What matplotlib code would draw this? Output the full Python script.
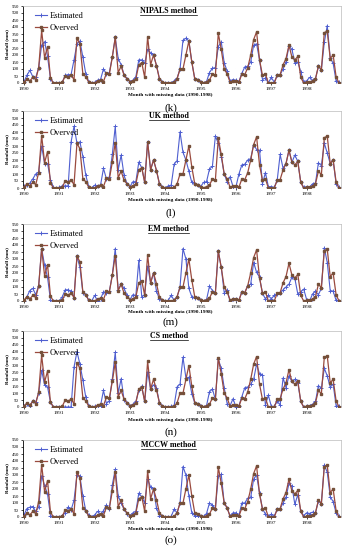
import matplotlib
matplotlib.use("Agg")
import matplotlib.pyplot as plt
from matplotlib.lines import Line2D
import numpy as np

plt.rcParams["font.family"] = ["Liberation Serif", "DejaVu Serif"]

years = ["1990", "1991", "1992", "1993", "1994", "1995", "1996", "1997", "1998"]

# observed monthly rainfall (mm), one row per year
observed = [
    5, 30, 15, 40, 25, 110, 375, 180, 260, 35, 0, 0,
    0, 5, 50, 45, 55, 25, 320, 280, 65, 45, 5, 0,
    0, 15, 20, 10, 70, 65, 185, 325, 75, 120, 55, 30,
    10, 15, 30, 130, 145, 40, 330, 130, 200, 125, 30, 5,
    0, 0, 0, 5, 30, 100, 100, 200, 300, 150, 30, 25,
    10, 0, 10, 20, 65, 55, 355, 240, 100, 65, 5, 15,
    15, 5, 65, 60, 110, 200, 310, 365, 165, 55, 65, 0,
    0, 0, 55, 60, 130, 175, 270, 185, 165, 190, 40, 0,
    5, 5, 15, 30, 120, 95, 360, 370, 175, 200, 45, 0,
]

est_nipals = [
    10, 55, 90, 45, 40, 110, 270, 295, 190, 30, 0, 0,
    0, 5, 55, 60, 60, 165, 280, 300, 185, 65, 10, 0,
    5, 20, 25, 100, 65, 75, 185, 325, 175, 130, 60, 30,
    10, 20, 45, 165, 165, 140, 240, 215, 200, 125, 30, 5,
    0, 0, 0, 15, 35, 100, 305, 320, 300, 150, 30, 25,
    5, 0, 10, 75, 105, 110, 260, 295, 145, 85, 15, 25,
    20, 10, 70, 115, 120, 150, 270, 280, 165, 25, 35, 0,
    40, 5, 55, 60, 100, 150, 265, 240, 145, 150, 80, 10,
    15, 40, 20, 30, 120, 95, 290, 410, 180, 140, 15, 5,
]

est_uk = [
    15, 20, 35, 65, 100, 115, 300, 175, 175, 60, 5, 0,
    5, 15, 15, 15, 330, 440, 320, 330, 225, 90, 10, 0,
    20, 15, 20, 140, 65, 80, 240, 440, 130, 235, 90, 30,
    10, 45, 45, 185, 145, 40, 330, 130, 200, 125, 30, 5,
    0, 15, 20, 170, 195, 400, 255, 200, 120, 40, 30, 20,
    10, 40, 45, 135, 155, 370, 320, 225, 100, 45, 80, 10,
    10, 100, 165, 170, 200, 210, 310, 275, 270, 30, 110, 10,
    10, 5, 55, 240, 140, 175, 270, 185, 235, 190, 40, 5,
    10, 5, 30, 35, 180, 160, 320, 250, 175, 200, 30, 5,
]

est_em = [
    0, 30, 75, 90, 45, 110, 375, 255, 170, 5, 0, 0,
    0, 30, 80, 80, 70, 25, 320, 240, 60, 45, 5, 0,
    40, 0, 15, 65, 60, 70, 185, 375, 80, 120, 90, 40,
    10, 45, 40, 290, 30, 45, 250, 130, 200, 70, 15, 5,
    0, 5, 40, 5, 30, 100, 375, 300, 90, 30, 25, 20,
    5, 0, 10, 105, 75, 60, 355, 240, 60, 80, 0, 15,
    15, 5, 65, 60, 110, 120, 275, 205, 170, 55, 15, 40,
    15, 40, 50, 55, 80, 100, 120, 170, 160, 50, 65, 85,
    10, 0, 50, 70, 45, 90, 380, 275, 75, 70, 5, 0,
]

est_cs = [
    10, 20, 5, 45, 35, 100, 265, 160, 145, 35, 0, 0,
    0, 0, 0, 0, 0, 290, 400, 310, 195, 70, 10, 0,
    5, 5, 10, 120, 25, 45, 205, 395, 100, 205, 50, 30,
    5, 20, 40, 120, 150, 40, 255, 130, 160, 140, 30, 5,
    0, 0, 5, 10, 145, 165, 360, 210, 215, 95, 30, 25,
    10, 0, 10, 110, 130, 55, 345, 280, 140, 25, 10, 60,
    0, 10, 75, 140, 145, 165, 200, 310, 240, 235, 15, 85,
    5, 5, 40, 15, 210, 140, 225, 185, 200, 175, 40, 0,
    5, 10, 20, 40, 155, 135, 280, 225, 145, 165, 10, 5,
]

est_mccw = [
    15, 60, 70, 75, 40, 70, 295, 225, 165, 10, 0, 0,
    0, 10, 30, 70, 50, 120, 300, 290, 150, 45, 15, 0,
    15, 40, 20, 45, 85, 60, 230, 340, 150, 100, 55, 25,
    10, 30, 40, 170, 145, 100, 270, 215, 200, 65, 10, 5,
    0, 0, 5, 55, 30, 100, 360, 300, 150, 30, 10, 5,
    5, 5, 25, 100, 85, 60, 290, 305, 100, 65, 5, 30,
    30, 10, 100, 100, 135, 140, 270, 300, 170, 60, 20, 5,
    20, 5, 55, 60, 100, 140, 240, 220, 90, 160, 40, 10,
    30, 25, 35, 30, 115, 95, 370, 320, 145, 110, 30, 5,
]

methods = ["NIPALS method", "UK method", "EM method", "CS method", "MCCW method"]
estimates = [est_nipals, est_uk, est_em, est_cs, est_mccw]
letters = ["(k)", "(l)", "(m)", "(n)", "(o)"]

W, H = 348, 550
fig = plt.figure(figsize=(W / 100, H / 100), dpi=100)

# pixel layout: (top of plot, zero line, x-label y, letter y)
panels = [(6, 83, 95, 108), (111, 188, 200, 213), (224, 301, 312, 322),
          (331, 407, 420, 432), (440, 517, 529, 540)]
left, right = 22.5, 340.5

months = np.arange(len(observed))
blue = "#4f5fd0"
red = "#9a4a3e"
brown = "#75503a"

titles = []
for (top, bot, xl_y, let_y), name, est, let in zip(panels, methods, estimates, letters):
    ax = fig.add_axes([left / W, 1 - bot / H, (right - left) / W, (bot - top) / H])
    h_est, = ax.plot(months, est, color=blue, lw=0.8, marker="+", ms=2.2,
                     mew=0.7, mec=blue, label="Estimated", zorder=2)
    h_obs, = ax.plot(months, observed, color=red, lw=0.9, marker="s", ms=1.9,
                     mec=brown, mfc=brown, label="Overved", zorder=3)
    ax.axhline(0, color="#333355", lw=0.7, ls=(0, (1.5, 1.5)), zorder=1)
    ax.set_xlim(-0.5, 107.5)
    ax.set_ylim(0, 550)
    ax.set_yticks(np.arange(0, 551, 50))
    ax.set_xticks(np.arange(0, 108, 12))
    ax.set_xticklabels(years)
    ax.tick_params(axis="y", labelsize=3.5, length=1.5, width=0.5, pad=1)
    ax.tick_params(axis="x", labelsize=3.8, length=1.5, width=0.5, pad=1.5)
    for s in ["top", "right"]:
        ax.spines[s].set_color("#bbbbbb")
        ax.spines[s].set_linewidth(0.5)
    ax.spines["bottom"].set_visible(False)
    ax.spines["left"].set_linewidth(0.6)
    ax.set_ylabel("Rainfall (mm)", fontsize=3.5, fontweight="bold", labelpad=1.5)
    t = ax.text(0.46, 0.93, name, transform=ax.transAxes, ha="center",
                va="center", fontsize=5.8, fontweight="bold")
    titles.append(t)
    ax.legend(handles=[h_est, h_obs], loc="upper left", fontsize=6,
              frameon=False, handlelength=1.5, borderaxespad=0.3,
              labelspacing=0.45, handletextpad=0.3, bbox_to_anchor=(0.02, 1.0))
    fig.text(0.49, 1 - xl_y / H, "Month with missing data (1990-1998)",
             ha="center", va="center", fontsize=3.8, fontweight="bold")
    fig.text(0.49, 1 - let_y / H, let, ha="center", va="center", fontsize=8)

# underline the method titles
fig.canvas.draw()
for t in titles:
    bb = t.get_window_extent().transformed(fig.transFigure.inverted())
    fig.add_artist(Line2D([bb.x0, bb.x1], [bb.y0 + 0.001, bb.y0 + 0.001],
                          transform=fig.transFigure, color="black", lw=0.5))

fig.savefig("out.png", dpi=100)
